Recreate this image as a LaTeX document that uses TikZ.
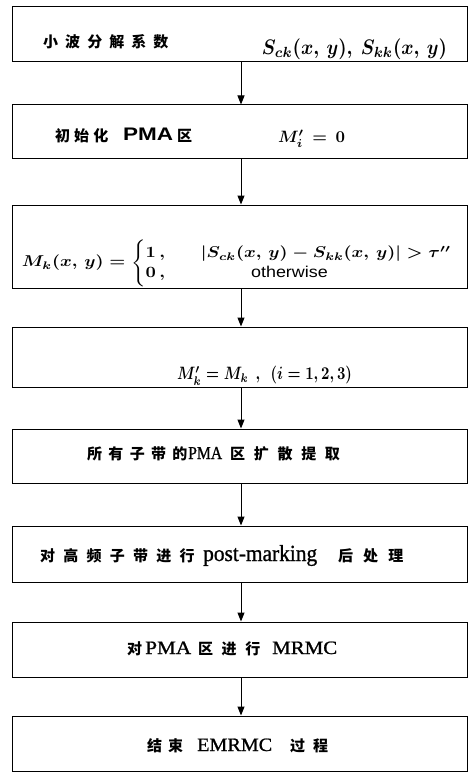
\documentclass[tikz,border=0pt]{standalone}
\usepackage{amsmath}
\usepackage{graphicx}
\usepackage{fontspec}
\setmainfont{Liberation Serif}
\setsansfont{Liberation Sans}
\newfontfamily\cjk{Noto Sans CJK SC}
\usetikzlibrary{arrows.meta}
\newcommand\zhs[2][55]{{\fontsize{15}{18}\cjk\bfseries\addfontfeature{LetterSpace=#1}#2}}
\newcommand\lt[3]{\resizebox{#1}{#2}{\rmfamily\fontsize{18}{18}\selectfont\addfontfeature{FakeBold=1}#3}}
\begin{document}
\begin{tikzpicture}[x=1pt,y=-1pt,
  box/.style={draw, line width=1pt, minimum width=455pt, inner sep=0pt},
  arr/.style={line width=1pt, -{Triangle[length=9pt,width=7pt]}},
  seg/.style={anchor=base west, inner sep=0pt},
  fm/.style={inner sep=0pt}]
\useasboundingbox (0,0) rectangle (472,773);
\node[box, minimum height=55pt] (b1) at (239.5,34.5) {};
\node[box, minimum height=53pt] (b2) at (239.5,131.5) {};
\node[box, minimum height=83pt] (b3) at (239.5,246.5) {};
\node[box, minimum height=60pt] (b4) at (239.5,357) {};
\node[box, minimum height=54pt] (b5) at (239.5,456) {};
\node[box, minimum height=56pt] (b6) at (239.5,554) {};
\node[box, minimum height=55pt] (b7) at (239.5,649.5) {};
\node[box, minimum height=55pt] (b8) at (239.5,743.5) {};
\foreach \a/\b in {b1/b2,b2/b3,b3/b4,b4/b5,b5/b6,b6/b7,b7/b8}
  \draw[arr] ([xshift=1.5pt]\a.south) -- ([xshift=1.5pt]\b.north);
% box 1
\node[seg] (t1) at (43,48) {\zhs[47]{小波分解系数}};
\node[fm] (f1) at (354.5,49) {\resizebox*{185pt}{21pt}{\boldmath$S_{ck}(x,\,y),\ S_{kk}(x,\,y)$}};
% box 2
\node[seg] (t2a) at (55,141) {\zhs[27]{初始化}};
\node[seg] (t2b) at (123,141) {\resizebox{50pt}{12.5pt}{\sffamily\bfseries PMA}};
\node[seg] (t2c) at (177,141) {\zhs{区}};
\node[fm] (f2) at (311.5,139) {\resizebox{67pt}{!}{\boldmath$M'_{i}\, = \,0$}};
% box 3
\node[fm] (f3) at (237.5,263) {\resizebox*{431pt}{47pt}{\boldmath$M_k(x,\,y) = \begin{cases} 1\,, & \quad|S_{ck}(x,\,y) - S_{kk}(x,\,y)| > \tau'' \\[-2pt] 0\,, & \hspace*{38pt}\textsf{otherwise} \end{cases}$}};
% box 4
\node[fm] (f4) at (264.5,376) {\resizebox*{175pt}{19pt}{\boldmath$M'_{k} = M_k\ \ ,\ \ (i = 1,2,3)$}};
% box 5
\node[seg] (t5a) at (87,459) {\zhs[42]{所有子带的}};
\node[seg] (t5b) at (188,459) {\lt{34pt}{12pt}{PMA}};
\node[seg] (t5c) at (230,459) {\zhs[58]{区扩散提取}};
% box 6
\node[seg] (t6a) at (40,561) {\zhs[55]{对高频子带进行}};
\node[seg] (t6b) at (203,561) {\lt{114pt}{16pt}{post-marking}};
\node[seg] (t6c) at (338,561) {\zhs[67]{后处理}};
% box 7
\node[seg] (t7a) at (127,654) {\zhs{对}};
\node[seg] (t7b) at (145,654) {\lt{46pt}{12.5pt}{PMA}};
\node[seg] (t7c) at (198,654) {\zhs[57]{区进行}};
\node[seg] (t7d) at (272,654) {\lt{65pt}{12.5pt}{MRMC}};
% box 8
\node[seg] (t8a) at (147,751) {\zhs[40]{结束}};
\node[seg] (t8b) at (197,751) {\lt{75pt}{12.5pt}{EMRMC}};
\node[seg] (t8c) at (290,751) {\zhs[53]{过程}};
\end{tikzpicture}
\end{document}
